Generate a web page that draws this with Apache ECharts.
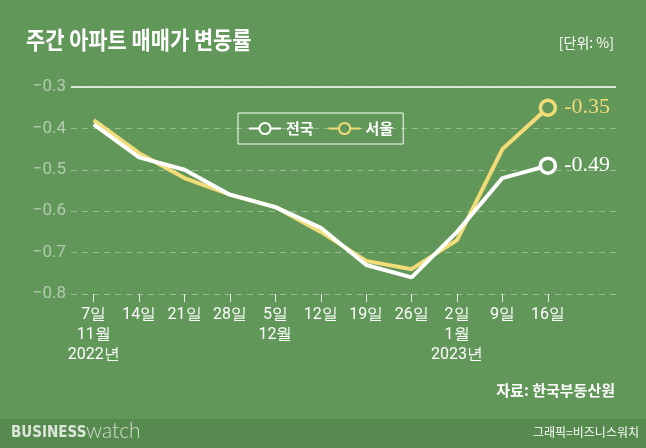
<!DOCTYPE html>
<html><head><meta charset="utf-8">
<script src="https://cdn.jsdelivr.net/npm/echarts@6/dist/echarts.min.js"></script>
<style>html,body{margin:0;padding:0;background:#62975a;}#c{width:646px;height:448px;}</style>
</head><body><div id="c"></div>
<script>
const categories = ['7일\n11월\n2022년','14일','21일','28일','5일\n12월','12일','19일','26일','2일\n1월\n2023년','9일','16일',''];
const nationwide = [-0.39,-0.47,-0.50,-0.56,-0.59,-0.64,-0.73,-0.76,-0.65,-0.52,-0.49];
const seoul = [-0.38,-0.46,-0.52,-0.56,-0.59,-0.65,-0.72,-0.74,-0.67,-0.45,-0.35];
const seriesNames = ['전국','서울'];
const yTicks = [-0.8,-0.7,-0.6,-0.5,-0.4,-0.3];

const BG = '#62975a';
const WHITE = '#ffffff';
const YELLOW = '#f1dc78';

function mk(vals, color){
  return vals.map((v,i)=>{
    if(i===vals.length-1){
      return {value:v, symbol:'circle', symbolSize:15,
        itemStyle:{color:BG,borderColor:color,borderWidth:3.5},
        label:{show:true,position:'right',distance:7,formatter:p=>String(p.value),
          fontFamily:'Liberation Serif',fontSize:22,color:color}};
    }
    return {value:v, symbol:'none'};
  });
}

const chart = echarts.init(document.getElementById('c'));
chart.setOption({
  backgroundColor: BG,
  animation:false,
  graphic:[
    {type:'rect',left:0,top:419,shape:{width:646,height:29},style:{fill:'#578a4f'}},
    {type:'text',left:26,top:28,scaleX:0.87,style:{text:'주간 아파트 매매가 변동률',fill:WHITE,font:'bold 24px "Noto Sans CJK KR"'}},
    {type:'text',right:32,top:36,style:{text:'[단위: %]',fill:WHITE,font:'14px "Noto Sans CJK KR"'}},
    {type:'text',right:31,top:383,style:{text:'자료: 한국부동산원',fill:WHITE,font:'bold 15px "Noto Sans CJK KR"'}},
    {type:'text',left:11,top:426,scaleX:0.9,style:{text:'BUSINESS',fill:'#dde6da',font:'900 15px "DejaVu Sans"'}},
    {type:'text',left:86,top:421,style:{text:'watch',fill:'#d3ded0',font:'300 21px "Lato"'}},
    {type:'text',right:7,top:426,style:{text:'그래픽=비즈니스워치',fill:WHITE,font:'12px "Noto Sans CJK KR"'}}
  ],
  legend:{
    left:238, top:113, padding:[8,10], borderColor:WHITE, borderWidth:1,
    itemWidth:32, itemHeight:14, itemGap:14,
    textStyle:{color:WHITE,fontSize:15,fontWeight:'bold',fontFamily:'Noto Sans CJK KR'},
    data:seriesNames
  },
  grid:{left:71,right:30,top:87,bottom:154},
  xAxis:{
    type:'category', data:categories, boundaryGap:true,
    axisLine:{show:false},
    axisTick:{show:true,alignWithLabel:true,length:8,interval:(i)=>i<11,lineStyle:{color:'rgba(255,255,255,0.85)',width:1}},
    axisLabel:{color:WHITE,fontSize:16,fontFamily:'Roboto',lineHeight:20,margin:11,interval:0}
  },
  yAxis:{
    type:'value', min:-0.8, max:-0.3, interval:0.1,
    axisLine:{show:false}, axisTick:{show:false},
    axisLabel:{color:'rgba(255,255,255,0.5)',fontSize:17,fontFamily:'Roboto',margin:5,
      formatter:v=>{const t=yTicks.find(x=>Math.abs(x-v)<1e-6);return (t!==undefined?t:v).toFixed(1).replace('-','\u2212');}},
    splitLine:{show:true,lineStyle:{color:'rgba(255,255,255,0.35)',type:[6,5],width:1}}
  },
  series:[
    {name:seriesNames[0],type:'line',data:mk(nationwide,WHITE),symbol:'circle',symbolSize:12,
      lineStyle:{color:WHITE,width:4},itemStyle:{color:BG,borderColor:WHITE,borderWidth:3},z:3,
      markLine:{silent:true,symbol:'none',label:{show:false},lineStyle:{color:WHITE,type:'solid',width:1.5},data:[{yAxis:-0.3}]}},
    {name:seriesNames[1],type:'line',data:mk(seoul,YELLOW),symbol:'circle',symbolSize:12,
      lineStyle:{color:YELLOW,width:4},itemStyle:{color:BG,borderColor:YELLOW,borderWidth:3},z:2}
  ]
});
</script></body></html>
